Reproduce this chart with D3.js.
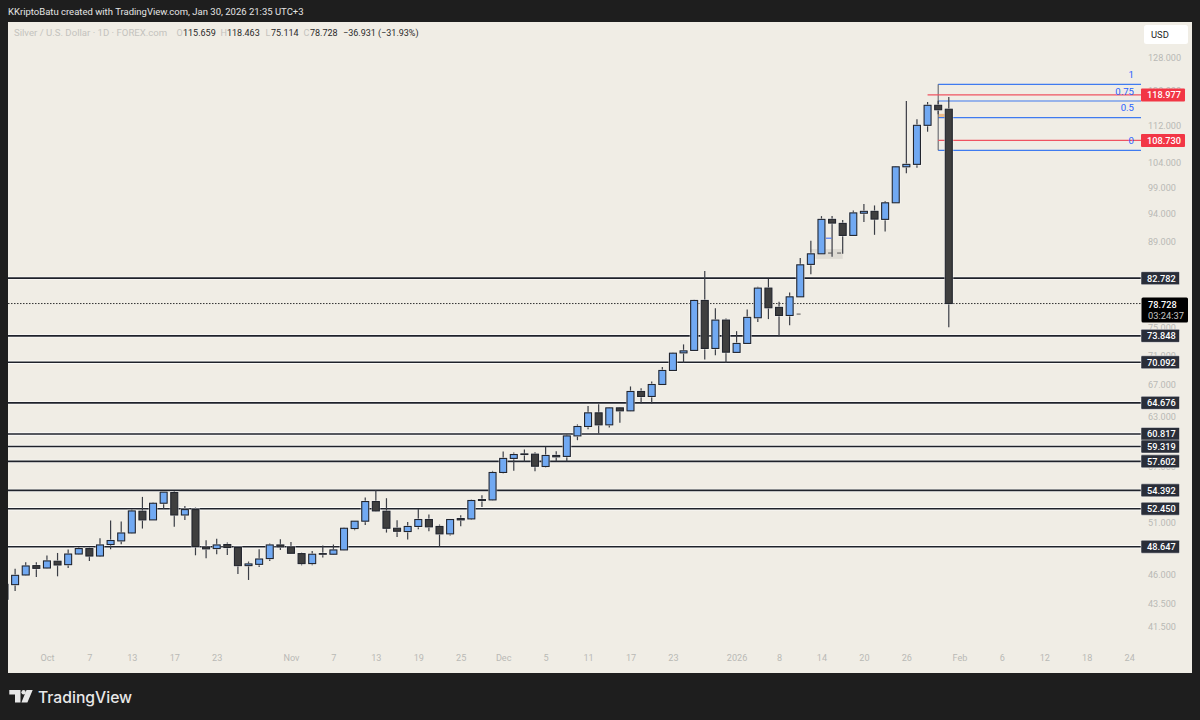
<!DOCTYPE html>
<html lang="en">
<head>
<meta charset="UTF-8">
<title>Silver / U.S. Dollar</title>
<script src="https://d3js.org/d3.v7.min.js"></script>
<style>
  html, body { margin: 0; padding: 0; background: #1e1e1e; }
  svg { display: block; font-family: Roboto, "Liberation Sans", sans-serif; }
  .axis text { fill: #b9b9b5; font-size: 9.1px; font-family: Roboto, sans-serif; }
  .axis .domain, .axis line { display: none; }
</style>
</head>
<body>
<div id="chart"></div>
<script>
// trading days, Sep 25 2025 to Feb 24 2026
const days = [
  "09-25","09-26","09-29","09-30",
  "10-01","10-02","10-03","10-06","10-07","10-08","10-09","10-10","10-13","10-14","10-15","10-16","10-17",
  "10-20","10-21","10-22","10-23","10-24","10-27","10-28","10-29","10-30","10-31",
  "11-03","11-04","11-05","11-06","11-07","11-10","11-11","11-12","11-13","11-14","11-17","11-18","11-19",
  "11-20","11-21","11-24","11-25","11-26","11-27","11-28",
  "12-01","12-02","12-03","12-04","12-05","12-08","12-09","12-10","12-11","12-12","12-15","12-16","12-17",
  "12-18","12-19","12-22","12-23","12-24","12-26","12-29","12-30","12-31",
  "01-02","01-05","01-06","01-07","01-08","01-09","01-12","01-13","01-14","01-15","01-16","01-19","01-20",
  "01-21","01-22","01-23","01-26","01-27","01-28","01-29","01-30",
  "02-02","02-03","02-04","02-05","02-06","02-09","02-10","02-11","02-12","02-13","02-16","02-17","02-18",
  "02-19","02-20","02-23","02-24"
];

const opens = [
  43.84,45.13,46.0,46.86,46.64,47.27,46.95,47.95,48.47,47.76,48.86,49.21,49.99,52.19,51.3,53.02,54.16,51.8,52.36,48.63,
  48.47,48.86,48.57,46.86,46.98,47.52,48.82,48.63,47.99,47.05,47.99,47.93,48.34,50.43,51.17,53.2,52.19,50.46,50.13,50.64,
  51.34,50.64,49.9,51.44,51.4,53.41,53.37,56.35,57.94,58.46,58.43,57.02,58.28,58.17,60.58,61.72,63.41,61.92,64.04,63.66,
  66.15,65.5,67.07,68.96,71.4,71.75,79.21,72.03,76.19,71.47,72.75,76.54,81.17,78.13,76.89,79.78,85.07,86.87,93.0,92.26,
  90.09,94.14,94.49,93.0,96.1,103.2,103.7,112.03,116.56,115.659
];
const highs = [
  45.3,46.58,47.17,47.17,47.8,48.05,48.38,48.63,48.57,49.47,51.24,51.14,52.36,53.69,53.13,54.2,54.33,52.74,52.57,49.28,
  49.41,49.06,48.61,47.24,48.4,48.97,49.38,49.11,48.09,48.24,48.76,48.86,50.53,51.2,53.63,54.41,53.55,51.27,51.1,52.43,
  51.85,50.83,51.34,51.77,53.41,53.87,56.53,58.74,58.62,58.97,58.66,59.28,58.77,60.79,61.97,64.29,64.51,64.13,64.13,66.81,
  66.58,67.47,69.45,71.47,72.61,79.31,83.95,78.0,76.44,74.54,77.82,81.38,82.68,79.0,80.48,86.14,89.14,93.6,93.6,92.87,
  94.67,95.86,95.6,96.43,103.3,117.55,113.37,117.32,117.6,118.463
];
const lows = [
  43.6,44.57,45.95,45.82,46.6,45.88,46.64,47.9,47.3,47.67,48.4,48.89,49.95,50.43,51.28,52.43,50.6,51.3,47.83,47.55,
  47.92,47.86,46.09,45.55,46.73,47.3,48.34,47.99,46.89,46.89,47.61,47.9,48.31,50.26,50.79,52.15,50.03,49.6,49.35,50.36,
  50.16,48.67,49.74,50.67,51.3,52.63,53.31,56.24,56.53,57.59,56.5,56.91,57.63,57.59,60.07,61.39,60.87,61.59,62.17,63.62,
  64.6,64.55,67.07,68.9,70.0,71.69,70.48,71.08,70.0,71.4,72.69,75.89,76.34,73.8,75.42,79.75,83.41,86.84,86.35,86.87,
  90.03,92.5,90.2,90.81,96.04,101.87,103.0,110.62,114.5,75.114
];
const closes = [
  45.16,45.97,46.83,46.61,47.3,46.92,47.95,48.47,47.76,48.82,49.25,49.99,52.22,51.3,53.02,54.2,51.8,52.36,48.67,48.44,
  48.82,48.57,46.86,47.02,47.48,48.82,48.63,48.02,47.05,47.93,47.93,48.34,50.46,51.17,53.2,52.22,50.46,50.16,50.64,51.34,
  50.6,49.9,51.34,51.3,53.31,53.31,56.35,57.94,58.39,58.39,57.05,58.28,58.12,60.58,61.72,63.41,61.92,64.04,63.66,66.15,
  65.5,67.07,68.96,71.36,71.69,79.21,72.03,76.19,71.5,72.75,76.6,81.17,78.07,76.89,79.78,85.0,86.87,93.0,92.32,90.09,
  94.2,94.49,93.05,96.1,103.2,103.7,112.03,116.56,115.54,78.728
];

const priceTicks = [128, 120, 112, 104, 99, 94, 89, 75, 71, 67, 63, 57, 54, 51, 46, 43.5, 41.5];
const timeTicks = ["10-01","10-07","10-13","10-17","10-23","11-03","11-07","11-13","11-19","11-25","12-01","12-05",
  "12-11","12-17","12-23","01-02","01-08","01-14","01-20","01-26","02-02","02-06","02-12","02-18","02-24"];
const timeLabels = ["Oct","7","13","17","23","Nov","7","13","19","25","Dec","5","11","17","23","2026","8","14","20","26","Feb","6","12","18","24"];

const levels = [82.782, 73.848, 70.092, 64.676, 60.817, 59.319, 57.602, 54.392, 52.450, 48.647];
const lastPrice = 78.728;
const fibRatios = ["1", "0.75", "0.5", "0"];
const fibPrices = [121.5, 117.55, 113.73, 106.62];
const redPrices = [118.977, 108.730];
const redStarts = ["01-28", "01-29"];

// leftover drawing bits around the candles
const stubDays = ["01-14", "01-15", "01-15", "01-09"];
const stubPrices = [89.6, 87.0, 87.0, 77.1];
const stubColors = ["#2962ff", "#555", "#555", "#555"];

const W = 1200, H = 720;
const plot = { left: 8, top: 22, right: 1192, bottom: 673 };
const lineEnd = 1141;

const svg = d3.select("#chart").append("svg").attr("width", W).attr("height", H);
svg.append("rect").attr("width", W).attr("height", H).attr("fill", "#1e1e1e");
svg.append("rect")
  .attr("x", plot.left).attr("y", plot.top)
  .attr("width", plot.right - plot.left).attr("height", plot.bottom - plot.top)
  .attr("fill", "#f0ede5");
svg.append("clipPath").attr("id", "pane").append("rect")
  .attr("x", plot.left).attr("y", plot.top)
  .attr("width", plot.right - plot.left).attr("height", plot.bottom - plot.top);

const x = d3.scalePoint().domain(days).range([4.5, 4.5 + 10.61 * (days.length - 1)]);
const y = d3.scaleLog().domain([128, 41.5]).range([58, 627]);

// axes
svg.append("g").attr("class", "axis")
  .attr("transform", "translate(1147,0)")
  .call(d3.axisRight(y).tickValues(priceTicks).tickFormat(d3.format(".3f")).tickSize(0).tickPadding(1));
svg.append("g").attr("class", "axis")
  .attr("transform", "translate(0,652)")
  .call(d3.axisBottom(x).tickValues(timeTicks).tickFormat(d => timeLabels[timeTicks.indexOf(d)]).tickSize(0));

const pane = svg.append("g").attr("clip-path", "url(#pane)");

// horizontal levels, white halo under each line
pane.selectAll(".halo").data(levels).enter().append("line")
  .attr("x1", plot.left).attr("x2", lineEnd)
  .attr("y1", d => y(d)).attr("y2", d => y(d))
  .attr("stroke", "#fff").attr("stroke-opacity", 0.7).attr("stroke-width", 3.4);
pane.selectAll(".level").data(levels).enter().append("line")
  .attr("x1", plot.left).attr("x2", lineEnd)
  .attr("y1", d => y(d)).attr("y2", d => y(d))
  .attr("stroke", "#1f222b").attr("stroke-width", 1.6);

pane.append("line")
  .attr("x1", plot.left).attr("x2", lineEnd)
  .attr("y1", y(lastPrice)).attr("y2", y(lastPrice))
  .attr("stroke", "#333").attr("stroke-width", 1).attr("stroke-dasharray", "1.5 1.5");

// fib tool
const fibDay = "01-29";
pane.append("rect")
  .attr("x", x(fibDay) + 0.5).attr("width", 6.5)
  .attr("y", y(114.6)).attr("height", y(113.9) - y(114.6))
  .attr("fill", "#edbd8b");
pane.append("rect")
  .attr("x", x("01-13")).attr("width", x("01-16") - x("01-13"))
  .attr("y", y(87.7)).attr("height", y(86.0) - y(87.7))
  .attr("fill", "#dfdcd4");
pane.selectAll(".fib").data(fibPrices).enter().append("line")
  .attr("x1", x(fibDay)).attr("x2", lineEnd)
  .attr("y1", d => y(d)).attr("y2", d => y(d))
  .attr("stroke", "#3f7bf0").attr("stroke-width", 1.2);
pane.append("line")
  .attr("x1", x(fibDay)).attr("x2", x(fibDay))
  .attr("y1", y(fibPrices[0])).attr("y2", y(fibPrices[3]))
  .attr("stroke", "#55585f").attr("stroke-width", 1);
pane.selectAll(".red").data(redPrices).enter().append("line")
  .attr("x1", (d, i) => x(redStarts[i])).attr("x2", lineEnd)
  .attr("y1", d => y(d)).attr("y2", d => y(d))
  .attr("stroke", "#ef5361").attr("stroke-width", 1.2);
svg.selectAll(".fibText").data(fibRatios).enter().append("text")
  .attr("x", 1134).attr("y", (d, i) => y(fibPrices[i]) - 6.5)
  .attr("text-anchor", "end").attr("font-size", 9.6).attr("fill", "#2962ff")
  .text(d => d);

// candles
const candles = days.slice(0, opens.length).map((d, i) => ({
  day: d, open: opens[i], high: highs[i], low: lows[i], close: closes[i]
}));
const barW = 7;

pane.selectAll(".wick").data(candles).enter().append("line")
  .attr("x1", d => x(d.day)).attr("x2", d => x(d.day))
  .attr("y1", d => y(d.high)).attr("y2", d => y(d.low))
  .attr("stroke", "#3a3d45").attr("stroke-width", 1.2);
pane.selectAll(".bodyHalo").data(candles).enter().append("rect")
  .attr("x", d => x(d.day) - barW / 2 - 1.1).attr("width", barW + 2.2)
  .attr("y", d => y(Math.max(d.open, d.close)) - 1.1)
  .attr("height", d => Math.abs(y(d.open) - y(d.close)) + 2.2)
  .attr("fill", "#fff").attr("fill-opacity", 0.6);
pane.selectAll(".body").data(candles).enter().append("rect")
  .attr("x", d => x(d.day) - barW / 2).attr("width", barW)
  .attr("y", d => y(Math.max(d.open, d.close)))
  .attr("height", d => Math.max(0.6, Math.abs(y(d.open) - y(d.close))))
  .attr("fill", d => d.close >= d.open ? "#71a9f2" : "#3f3f3f")
  .attr("stroke", "#22252d").attr("stroke-width", 1.1);

// stray short ticks
pane.selectAll(".stub").data(stubDays).enter().append("line")
  .attr("x1", (d, i) => x(d) + [4.5, -4, 5, 7][i]).attr("x2", (d, i) => x(d) + [10, 0, 9, 11][i])
  .attr("y1", (d, i) => y(stubPrices[i])).attr("y2", (d, i) => y(stubPrices[i]))
  .attr("stroke", (d, i) => stubColors[i]).attr("stroke-width", 1);

// level tags on the price scale
const tagL = svg.selectAll(".tag").data(levels).enter().append("g");
tagL.append("rect")
  .attr("x", 1141).attr("width", 38.5)
  .attr("y", d => y(d) - 6.5).attr("height", 13).attr("rx", 1)
  .attr("fill", "#2a2e39").attr("stroke", "#fff").attr("stroke-opacity", 0.7).attr("stroke-width", 0.7);
tagL.append("text")
  .attr("x", 1161.4).attr("y", d => y(d) + 3.4)
  .attr("text-anchor", "middle").attr("font-size", 9.2).attr("font-weight", 500).attr("fill", "#fff")
  .text(d => d3.format(".3f")(d));

const tagR = svg.selectAll(".redTag").data(redPrices).enter().append("g");
tagR.append("rect")
  .attr("x", 1141).attr("width", 44)
  .attr("y", d => y(d) - 6.5).attr("height", 13).attr("rx", 1)
  .attr("fill", "#f23645");
tagR.append("text")
  .attr("x", 1164).attr("y", d => y(d) + 3.4)
  .attr("text-anchor", "middle").attr("font-size", 9.2).attr("font-weight", 500).attr("fill", "#fff")
  .text(d => d3.format(".3f")(d));

// last price tag with countdown
svg.append("rect")
  .attr("x", 1141.5).attr("width", 46.5)
  .attr("y", y(lastPrice) - 6).attr("height", 25).attr("rx", 1.5)
  .attr("fill", "#000");
svg.append("text").attr("x", 1148).attr("y", y(lastPrice) + 4)
  .attr("font-size", 9.2).attr("font-weight", 500).attr("fill", "#fff").text(d3.format(".3f")(lastPrice));
svg.append("text").attr("x", 1148).attr("y", y(lastPrice) + 15.5)
  .attr("font-size", 9.3).attr("fill", "#c6c6c6").text("03:24:37");

// currency button
svg.append("rect").attr("x", 1144).attr("y", 25).attr("width", 44).attr("height", 19).attr("rx", 2.5).attr("fill", "#fff");
svg.append("text").attr("x", 1151).attr("y", 38).attr("font-size", 9.4).attr("fill", "#222").text("USD");

// header and legend
svg.append("text").attr("x", 8).attr("y", 15).attr("font-size", 9.5).attr("fill", "#e4e4e4")
  .text("KKriptoBatu created with TradingView.com, Jan 30, 2026 21:35 UTC+3");

const legendGrey = "#c4c3be", legendDark = "#2a2a2a";
const legendBits = [
  [14, "Silver / U.S. Dollar · 1D · FOREX.com", legendGrey, 9.6],
  [176.5, "O", legendGrey, 9], [183, "115.659", legendDark, 9],
  [220.5, "H", legendGrey, 9], [227, "118.463", legendDark, 9],
  [265.5, "L", legendGrey, 9], [271, "75.114", legendDark, 9],
  [303.5, "C", legendGrey, 9], [310, "78.728", legendDark, 9],
  [343, "−36.931 (−31.93%)", legendDark, 9]
];
svg.selectAll(".legend").data(legendBits).enter().append("text")
  .attr("x", d => d[0]).attr("y", 36).attr("font-size", d => d[3]).attr("fill", d => d[2])
  .text(d => d[1]);

// TradingView mark
svg.append("path")
  .attr("d", "M9.3 690H20.5V702.4H15V694.6H9.3Z M26.5 690H32.7L27.4 702.4H21.4Z")
  .attr("fill", "#e8e8e8");
svg.append("circle").attr("cx", 23.6).attr("cy", 692.2).attr("r", 2.2).attr("fill", "#e8e8e8");
svg.append("text").attr("x", 38).attr("y", 702.5).attr("font-size", 15.7).attr("font-weight", 500)
  .attr("font-family", "Inter, Roboto, sans-serif").attr("fill", "#e8e8e8").text("TradingView");
</script>
</body>
</html>
